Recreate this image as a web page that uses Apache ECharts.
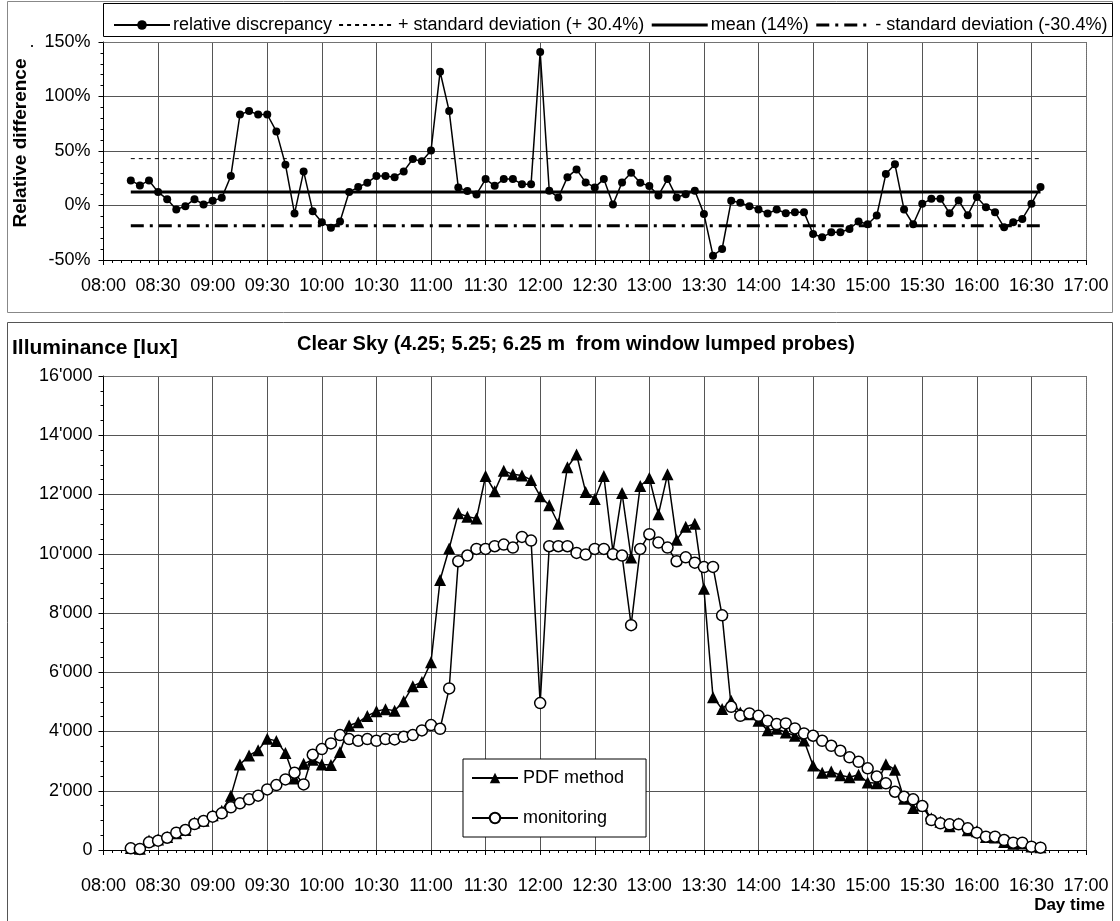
<!DOCTYPE html>
<html><head><meta charset="utf-8">
<script src="https://cdn.jsdelivr.net/npm/echarts@6/dist/echarts.min.js"></script>
<style>html,body{margin:0;padding:0;background:#fff}#c{width:1120px;height:921px}</style>
</head><body><div id="c"></div>
<script>
const times=["08:15","08:20","08:25","08:30","08:35","08:40","08:45","08:50","08:55",
"09:00","09:05","09:10","09:15","09:20","09:25","09:30","09:35","09:40","09:45","09:50","09:55",
"10:00","10:05","10:10","10:15","10:20","10:25","10:30","10:35","10:40","10:45","10:50","10:55",
"11:00","11:05","11:10","11:15","11:20","11:25","11:30","11:35","11:40","11:45","11:50","11:55",
"12:00","12:05","12:10","12:15","12:20","12:25","12:30","12:35","12:40","12:45","12:50","12:55",
"13:00","13:05","13:10","13:15","13:20","13:25","13:30","13:35","13:40","13:45","13:50","13:55",
"14:00","14:05","14:10","14:15","14:20","14:25","14:30","14:35","14:40","14:45","14:50","14:55",
"15:00","15:05","15:10","15:15","15:20","15:25","15:30","15:35","15:40","15:45","15:50","15:55",
"16:00","16:05","16:10","16:15","16:20","16:25","16:30","16:35"];
const xTickLabels=["08:00","08:30","09:00","09:30","10:00","10:30","11:00","11:30","12:00","12:30",
"13:00","13:30","14:00","14:30","15:00","15:30","16:00","16:30","17:00"];
const relDiff=[23,18.4,23,12.3,5.8,-3.7,-0.6,5.8,0.9,4.3,
7,27,83.5,86.6,83.5,83.5,68,37.5,-7.4,31.3,
-5.2,-15.3,-20.3,-14.7,12.3,16.9,20.9,27,27,26,
31.3,42.6,40.5,50.4,122.7,86.6,16.6,13.2,10.1,24.2,
18.1,24.2,24.2,19.6,19.6,140.9,13.5,7.4,26,33.1,
21.2,16.6,24.2,0.9,21.2,30.1,20.9,17.8,9.2,24.2,
7.4,10.4,13.5,-7.7,-46,-39.9,4.3,2.5,-0.6,-3.7,
-7.4,-3.7,-7.1,-6.1,-6.1,-26.1,-29.2,-24.6,-24.6,-21.5,
-14.7,-17.2,-9.2,28.8,37.8,-3.7,-17.2,1.5,6.1,6.1,
-7.1,4.6,-8.9,7.7,-1.5,-6.1,-20,-15.3,-12.3,1.5,
16.9];
const pdfMethod=[70,41,320,353,439,562,671,928,987,1172,
1324,1828,2888,3189,3364,3754,3683,3277,2415,2908,
3048,2886,2868,3309,4205,4310,4526,4682,4755,4704,
5018,5531,5672,6341,9113,10175,11366,11252,11191,12624,
12110,12805,12680,12641,12492,11944,11638,11013,12920,13349,
12087,11851,12624,10074,12047,9873,12288,12556,11333,12680,
10469,10908,11010,8815,5160,4760,5042,4643,4581,4362,
4038,4093,3969,3854,3695,2850,2610,2653,2525,2455,
2540,2282,2252,2898,2709,1731,1415,1506,1074,955,
805,907,667,629,442,422,270,209,217,114,
92];
const monitoring=[57,35,260,314,415,584,675,877,978,1124,
1237,1439,1574,1709,1833,2046,2192,2383,2608,2215,
3215,3407,3598,3879,3744,3687,3744,3687,3744,3733,
3822,3879,4037,4216,4092,5453,9748,9940,10164,10164,
10254,10310,10209,10569,10445,4958,10254,10254,10254,10029,
9973,10164,10164,9984,9940,7589,10164,10659,10378,10209,
9748,9880,9700,9550,9556,7920,4834,4530,4609,4530,
4361,4250,4272,4104,3935,3856,3687,3518,3349,3127,
2978,2756,2480,2250,1966,1798,1709,1484,1012,900,
867,867,732,584,449,449,337,247,247,112,
79];
const stdUpper=43, meanLine=12.5, stdLower=-18.5;

const FONT="'Liberation Sans', Arial, sans-serif";
const toMin=s=>(+s.slice(0,2))*60+(+s.slice(3));
const pts=arr=>times.map((t,i)=>[toMin(t),arr[i]]);
const span=v=>[[toMin(times[0]),v],[toMin(times[times.length-1]),v]];
const xFmt=v=>xTickLabels[Math.round((v-480)/30)]||'';

function xAx(g,margin){return {gridIndex:g,type:'value',min:480,max:1020,interval:30,
  axisLine:{onZero:false,lineStyle:{color:'#000',width:1}},
  axisTick:{length:5,lineStyle:{color:'#000'}},
  minorTick:{show:true,splitNumber:6,length:3,lineStyle:{color:'#000'}},
  splitLine:{show:true,lineStyle:{color:'#555',width:1}},
  axisLabel:{formatter:xFmt,fontSize:18,color:'#000',fontFamily:FONT,margin:margin}};}
function borderX(g){return {gridIndex:g,type:'value',position:'top',min:480,max:1020,
  axisLine:{onZero:false,lineStyle:{color:'#777',type:'dotted',width:1}},axisTick:{show:false},axisLabel:{show:false},splitLine:{show:false}};}
function borderY(g,mn,mx){return {gridIndex:g,type:'value',position:'right',min:mn,max:mx,
  axisLine:{show:true,onZero:false,lineStyle:{color:'#777',type:'dotted',width:1}},axisTick:{show:false},axisLabel:{show:false},splitLine:{show:false}};}
const noMark={color:'#000',opacity:0};

const option={
  animation:false,
  backgroundColor:'#fff',
  textStyle:{fontFamily:FONT},
  grid:[{left:103.5,right:34,top:42,height:218},{left:103.5,right:34,top:376,height:474}],
  xAxis:[xAx(0,17),xAx(1,27),borderX(0),borderX(1)],
  yAxis:[
    {gridIndex:0,type:'value',min:-50,max:150,interval:50,
     axisLine:{show:true,onZero:false,lineStyle:{color:'#000'}},
     axisTick:{show:true,length:5,lineStyle:{color:'#000'}},
     minorTick:{show:true,splitNumber:5,length:3,lineStyle:{color:'#000'}},
     splitLine:{show:true,lineStyle:{color:'#555',width:1}},
     axisLabel:{formatter:v=>(v===150?'.  ':'')+v+'%',fontSize:18,color:'#000',fontFamily:FONT,margin:13}},
    {gridIndex:1,type:'value',min:0,max:16000,interval:2000,
     axisLine:{show:true,onZero:false,lineStyle:{color:'#000'}},
     axisTick:{show:true,length:5,lineStyle:{color:'#000'}},
     minorTick:{show:true,splitNumber:4,length:3,lineStyle:{color:'#000'}},
     splitLine:{show:true,lineStyle:{color:'#555',width:1}},
     axisLabel:{formatter:v=>v===0?'0':(v/1000)+"'000",fontSize:18,color:'#000',fontFamily:FONT,margin:11}},
    borderY(0,-50,150),borderY(1,0,16000)
  ],
  legend:[
    {data:['relative discrepancy','+ standard deviation (+ 30.4%)',
           {name:'mean (14%)',lineStyle:{width:3}},
           {name:'- standard deviation (-30.4%)',lineStyle:{width:3}}],
     left:108,top:11,itemWidth:56,itemHeight:12,itemGap:6,selectedMode:false,
     textStyle:{fontSize:18,color:'#000',fontFamily:FONT,padding:[0,0,0,-2]}},
    {data:['PDF method','monitoring'],orient:'vertical',left:463,top:759,itemWidth:46,itemHeight:13,itemGap:22,
     padding:[10,22,10,8],borderColor:'#000',borderWidth:1,backgroundColor:'#fff',selectedMode:false,
     textStyle:{fontSize:18,color:'#000',fontFamily:FONT}}
  ],
  series:[
    {name:'+ standard deviation (+ 30.4%)',type:'line',xAxisIndex:0,yAxisIndex:0,data:span(stdUpper),symbol:'none',
     itemStyle:noMark,lineStyle:{color:'#000',width:1,type:[4,4]},z:2,silent:true},
    {name:'mean (14%)',type:'line',xAxisIndex:0,yAxisIndex:0,data:span(meanLine),symbol:'none',
     itemStyle:noMark,lineStyle:{color:'#000',width:3},z:2,silent:true},
    {name:'- standard deviation (-30.4%)',type:'line',xAxisIndex:0,yAxisIndex:0,data:span(stdLower),symbol:'none',
     itemStyle:noMark,lineStyle:{color:'#000',width:3,type:[13,6,3,6]},z:2,silent:true},
    {name:'relative discrepancy',type:'line',xAxisIndex:0,yAxisIndex:0,data:pts(relDiff),symbol:'circle',symbolSize:8,
     lineStyle:{color:'#000',width:1.5},itemStyle:{color:'#000'},z:5},
    {name:'PDF method',type:'line',xAxisIndex:1,yAxisIndex:1,data:pts(pdfMethod),symbol:'triangle',symbolSize:12,
     lineStyle:{color:'#000',width:1.5},itemStyle:{color:'#000'},z:4},
    {name:'monitoring',type:'line',xAxisIndex:1,yAxisIndex:1,data:pts(monitoring),symbol:'circle',symbolSize:11,
     lineStyle:{color:'#000',width:1.5},itemStyle:{color:'#fff',borderColor:'#000',borderWidth:1.5},z:5}
  ],
  graphic:[
    {type:'rect',shape:{x:7.5,y:1.5,width:1105,height:311},style:{fill:null,stroke:'#888',lineWidth:1},z:-1},
    {type:'rect',shape:{x:103.5,y:3.5,width:1009,height:33},style:{fill:null,stroke:'#000',lineWidth:1},z:-1},
    {type:'rect',shape:{x:7.5,y:322.5,width:1105,height:620},style:{fill:null,stroke:'#555',lineWidth:1},z:-1},
    {type:'text',x:21,y:143,rotation:Math.PI/2,style:{text:'Relative difference',font:"bold 19px 'Liberation Sans', Arial, sans-serif",fill:'#000',textAlign:'center',textVerticalAlign:'middle'}},
    {type:'text',x:12,y:348,style:{text:'Illuminance [lux]',font:"bold 21px 'Liberation Sans', Arial, sans-serif",fill:'#000',textAlign:'left',textVerticalAlign:'middle'}},
    {type:'text',x:576,y:344,style:{text:'Clear Sky (4.25; 5.25; 6.25 m  from window lumped probes)',font:"bold 20px 'Liberation Sans', Arial, sans-serif",fill:'#000',textAlign:'center',textVerticalAlign:'middle'}},
    {type:'text',x:1105,y:905,style:{text:'Day time',font:"bold 17px 'Liberation Sans', Arial, sans-serif",fill:'#000',textAlign:'right',textVerticalAlign:'middle'}}
  ]
};
const chart=echarts.init(document.getElementById('c'),null,{renderer:'canvas'});
chart.setOption(option);
</script></body></html>
